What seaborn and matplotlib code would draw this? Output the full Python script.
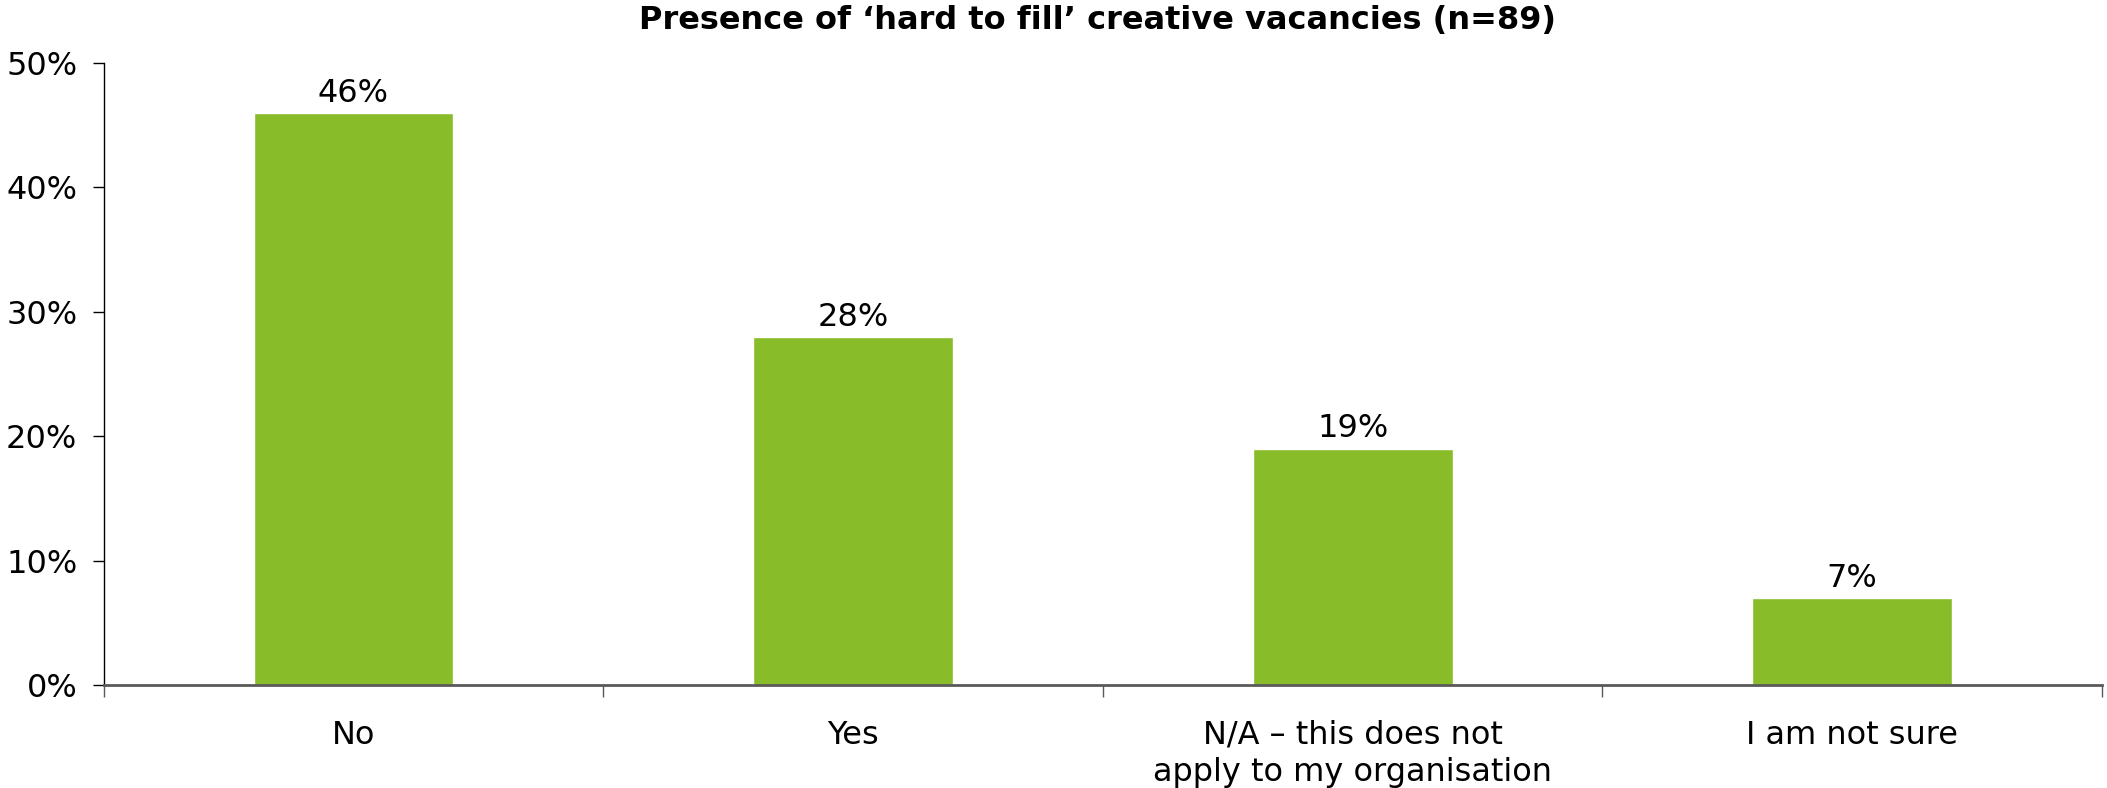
import matplotlib
matplotlib.use("Agg")
import matplotlib.pyplot as plt
import seaborn as sns
from matplotlib.ticker import FixedLocator, FuncFormatter

# Survey responses: share of organisations reporting hard-to-fill creative vacancies
categories = ["No", "Yes", "N/A \u2013 this does not\napply to my organisation", "I am not sure"]
shares = [46, 28, 19, 7]
value_labels = ["46%", "28%", "19%", "7%"]
y_ticks = [0, 10, 20, 30, 40, 50]
title = "Presence of \u2018hard to fill\u2019 creative vacancies (n=89)"

sns.set_theme(style="white")
plt.rcParams["font.family"] = ["DejaVu Sans"]

FS = 23

fig = plt.figure(figsize=(21.07, 7.88), dpi=100)
ax = fig.add_axes([0.0492, 0.1307, 0.9484, 0.7893])

sns.barplot(x=categories, y=shares, color="#88BC28", saturation=1, width=0.4, ax=ax)

ax.set_xlim(-0.5, len(categories) - 0.5)
ax.set_ylim(0, 50)
ax.yaxis.set_major_locator(FixedLocator(y_ticks))
ax.yaxis.set_major_formatter(FuncFormatter(lambda v, _: f"{v:.0f}%"))
ax.set_xlabel("")
ax.set_ylabel("")

# Spines: left thin black, bottom grey baseline
for side in ("top", "right"):
    ax.spines[side].set_visible(False)
ax.spines["left"].set_color("black")
ax.spines["left"].set_linewidth(1.0)
ax.spines["bottom"].set_color("#595959")
ax.spines["bottom"].set_linewidth(2.0)
ax.spines["bottom"].set_zorder(5)

ax.tick_params(axis="y", which="major", direction="out", length=8, width=1,
               color="black", pad=11, labelsize=FS, labelcolor="black", left=True)
# Category labels without ticks; separator ticks between categories
ax.tick_params(axis="x", which="major", length=0, pad=25, labelsize=FS, labelcolor="black")
ax.set_xticks([i - 0.5 for i in range(len(categories) + 1)], minor=True)
ax.tick_params(axis="x", which="minor", direction="out", length=8.5, width=1,
               color="#595959", bottom=True)
for lbl in ax.get_xticklabels():
    lbl.set_linespacing(1.27)

ax.bar_label(ax.containers[0], labels=value_labels, padding=3, fontsize=FS, color="black")

fig.text(0.5207, 1 - 20 / 788, title, ha="center", va="center",
         fontsize=23, fontweight="bold", color="black")

fig.savefig("out.png", dpi=100, facecolor="white")
